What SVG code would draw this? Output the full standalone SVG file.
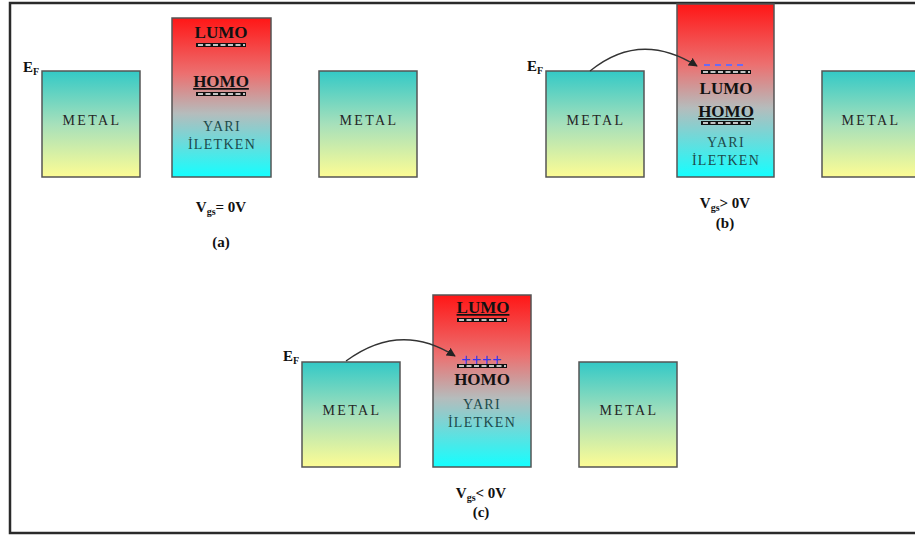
<svg xmlns="http://www.w3.org/2000/svg" width="915" height="537" viewBox="0 0 915 537">
<style>
.metal{stroke:#555;stroke-width:1.5;fill:url(#gm)}
.semi{stroke:#555;stroke-width:1.5;fill:url(#gs)}
.mt{font-family:"Liberation Serif",serif;font-size:14px;letter-spacing:2.4px;fill:#262626;text-anchor:middle}
.yt{font-family:"Liberation Serif",serif;font-size:14px;letter-spacing:1.3px;fill:#1d4a4b;text-anchor:middle}
.lv{font-family:"Liberation Serif",serif;font-size:17px;font-weight:bold;fill:#111;text-anchor:middle}
.lb{font-family:"Liberation Serif",serif;font-size:15px;font-weight:bold;fill:#111;text-anchor:middle}
.ef{font-family:"Liberation Serif",serif;font-size:15px;font-weight:bold;fill:#111}
.bar{fill:#111}
.dash{stroke:#fff;stroke-width:1.4;stroke-dasharray:5 2.5}
.conn{fill:none;stroke:#333;stroke-width:1.4}
</style>
<defs>
<linearGradient id="gm" x1="0" y1="0" x2="0" y2="1">
<stop offset="0" stop-color="#33c9c6"/>
<stop offset="0.5" stop-color="#a6e0bb"/>
<stop offset="1" stop-color="#fdfc94"/>
</linearGradient>
<linearGradient id="gs" x1="0" y1="0" x2="0" y2="1">
<stop offset="0" stop-color="#ff1616"/>
<stop offset="0.35" stop-color="#ec7070"/>
<stop offset="0.6" stop-color="#b5bcbc"/>
<stop offset="1" stop-color="#14ffff"/>
</linearGradient>
<marker id="ah" viewBox="0 0 10 10" refX="9" refY="5" markerWidth="9" markerHeight="9" markerUnits="userSpaceOnUse" orient="auto">
<path d="M0,0 L10,5 L0,10 z" fill="#222"/>
</marker>
</defs>
<rect x="0" y="0" width="915" height="537" fill="#fff"/>
<rect id="frame" x="10" y="3" width="925" height="530" fill="none" stroke="#2a2a2a" stroke-width="2.5"/>

<!-- Panel (a) -->
<g id="a-metal-left">
<rect class="metal" x="42" y="71" width="98" height="106"/>
<text class="mt" x="92" y="125">METAL</text>
</g>
<g id="a-semi">
<rect class="semi" x="172" y="18" width="99" height="159"/>
<text class="lv" x="221" y="38">LUMO</text>
<rect class="bar" x="196" y="43" width="50" height="4"/>
<line class="dash" x1="198" y1="45" x2="245" y2="45"/>
<text class="lv" x="221" y="87" text-decoration="underline">HOMO</text>
<rect class="bar" x="196" y="92" width="50" height="4"/>
<line class="dash" x1="198" y1="94" x2="245" y2="94"/>
<text class="yt" x="222" y="131">YARI</text>
<text class="yt" x="222" y="149">İLETKEN</text>
</g>
<g id="a-metal-right">
<rect class="metal" x="319" y="71" width="98" height="106"/>
<text class="mt" x="369" y="125">METAL</text>
</g>
<g id="a-labels">
<text class="ef" x="23" y="72">E<tspan font-size="10" dy="3">F</tspan></text>
<text class="lb" x="221" y="212">V<tspan font-size="10" dy="3">gs</tspan><tspan dy="-3">= 0V</tspan></text>
<text class="lb" x="221" y="247">(a)</text>
</g>

<!-- Panel (b) -->
<g id="b-metal-left">
<rect class="metal" x="546" y="71" width="98" height="106"/>
<text class="mt" x="596" y="125">METAL</text>
</g>
<g id="b-semi">
<rect class="semi" x="677" y="4" width="97" height="173"/>
<line x1="704" y1="65" x2="746" y2="65" stroke="#6a6af5" stroke-width="1.8" stroke-dasharray="6 5"/>
<rect class="bar" x="701" y="70" width="50" height="4"/>
<line class="dash" x1="703" y1="72" x2="750" y2="72"/>
<text class="lv" x="726" y="94">LUMO</text>
<text class="lv" x="726" y="117" text-decoration="underline">HOMO</text>
<rect class="bar" x="701" y="121" width="50" height="4"/>
<line class="dash" x1="703" y1="123" x2="750" y2="123"/>
<text class="yt" x="726" y="147">YARI</text>
<text class="yt" x="726" y="165">İLETKEN</text>
</g>
<g id="b-metal-right">
<rect class="metal" x="822" y="71" width="110" height="106"/>
<text class="mt" x="871" y="125">METAL</text>
</g>
<g id="b-labels">
<text class="ef" x="527" y="71">E<tspan font-size="10" dy="3">F</tspan></text>
<text class="lb" x="725" y="208">V<tspan font-size="10" dy="3">gs</tspan><tspan dy="-3">&gt; 0V</tspan></text>
<text class="lb" x="725" y="228">(b)</text>
</g>

<!-- Panel (c) -->
<g id="c-metal-left">
<rect class="metal" x="302" y="362" width="98" height="105"/>
<text class="mt" x="352" y="415">METAL</text>
</g>
<g id="c-semi">
<rect class="semi" x="433" y="295" width="98" height="172"/>
<text class="lv" x="483" y="313" text-decoration="underline">LUMO</text>
<rect class="bar" x="457" y="318" width="50" height="4"/>
<line class="dash" x1="459" y1="320" x2="506" y2="320"/>
<text x="482" y="365" font-family="Liberation Sans,sans-serif" font-size="16" letter-spacing="1" fill="#3535ee" text-anchor="middle">++++</text>
<rect class="bar" x="457" y="364" width="50" height="4"/>
<line class="dash" x1="459" y1="366" x2="506" y2="366"/>
<text class="lv" x="482" y="385">HOMO</text>
<text class="yt" x="482" y="409">YARI</text>
<text class="yt" x="482" y="427">İLETKEN</text>
</g>
<g id="c-metal-right">
<rect class="metal" x="579" y="362" width="98" height="105"/>
<text class="mt" x="629" y="415">METAL</text>
</g>
<g id="c-labels">
<text class="ef" x="283" y="361">E<tspan font-size="10" dy="3">F</tspan></text>
<text class="lb" x="481" y="498">V<tspan font-size="10" dy="3">gs</tspan><tspan dy="-3">&lt; 0V</tspan></text>
<text class="lb" x="481" y="517">(c)</text>
</g>

<g id="connectors">
<path class="conn" d="M590,71 Q640,30 697,66" marker-end="url(#ah)"/>
<path class="conn" d="M346,361 Q400,321 455,356" marker-end="url(#ah)"/>
</g>
</svg>
